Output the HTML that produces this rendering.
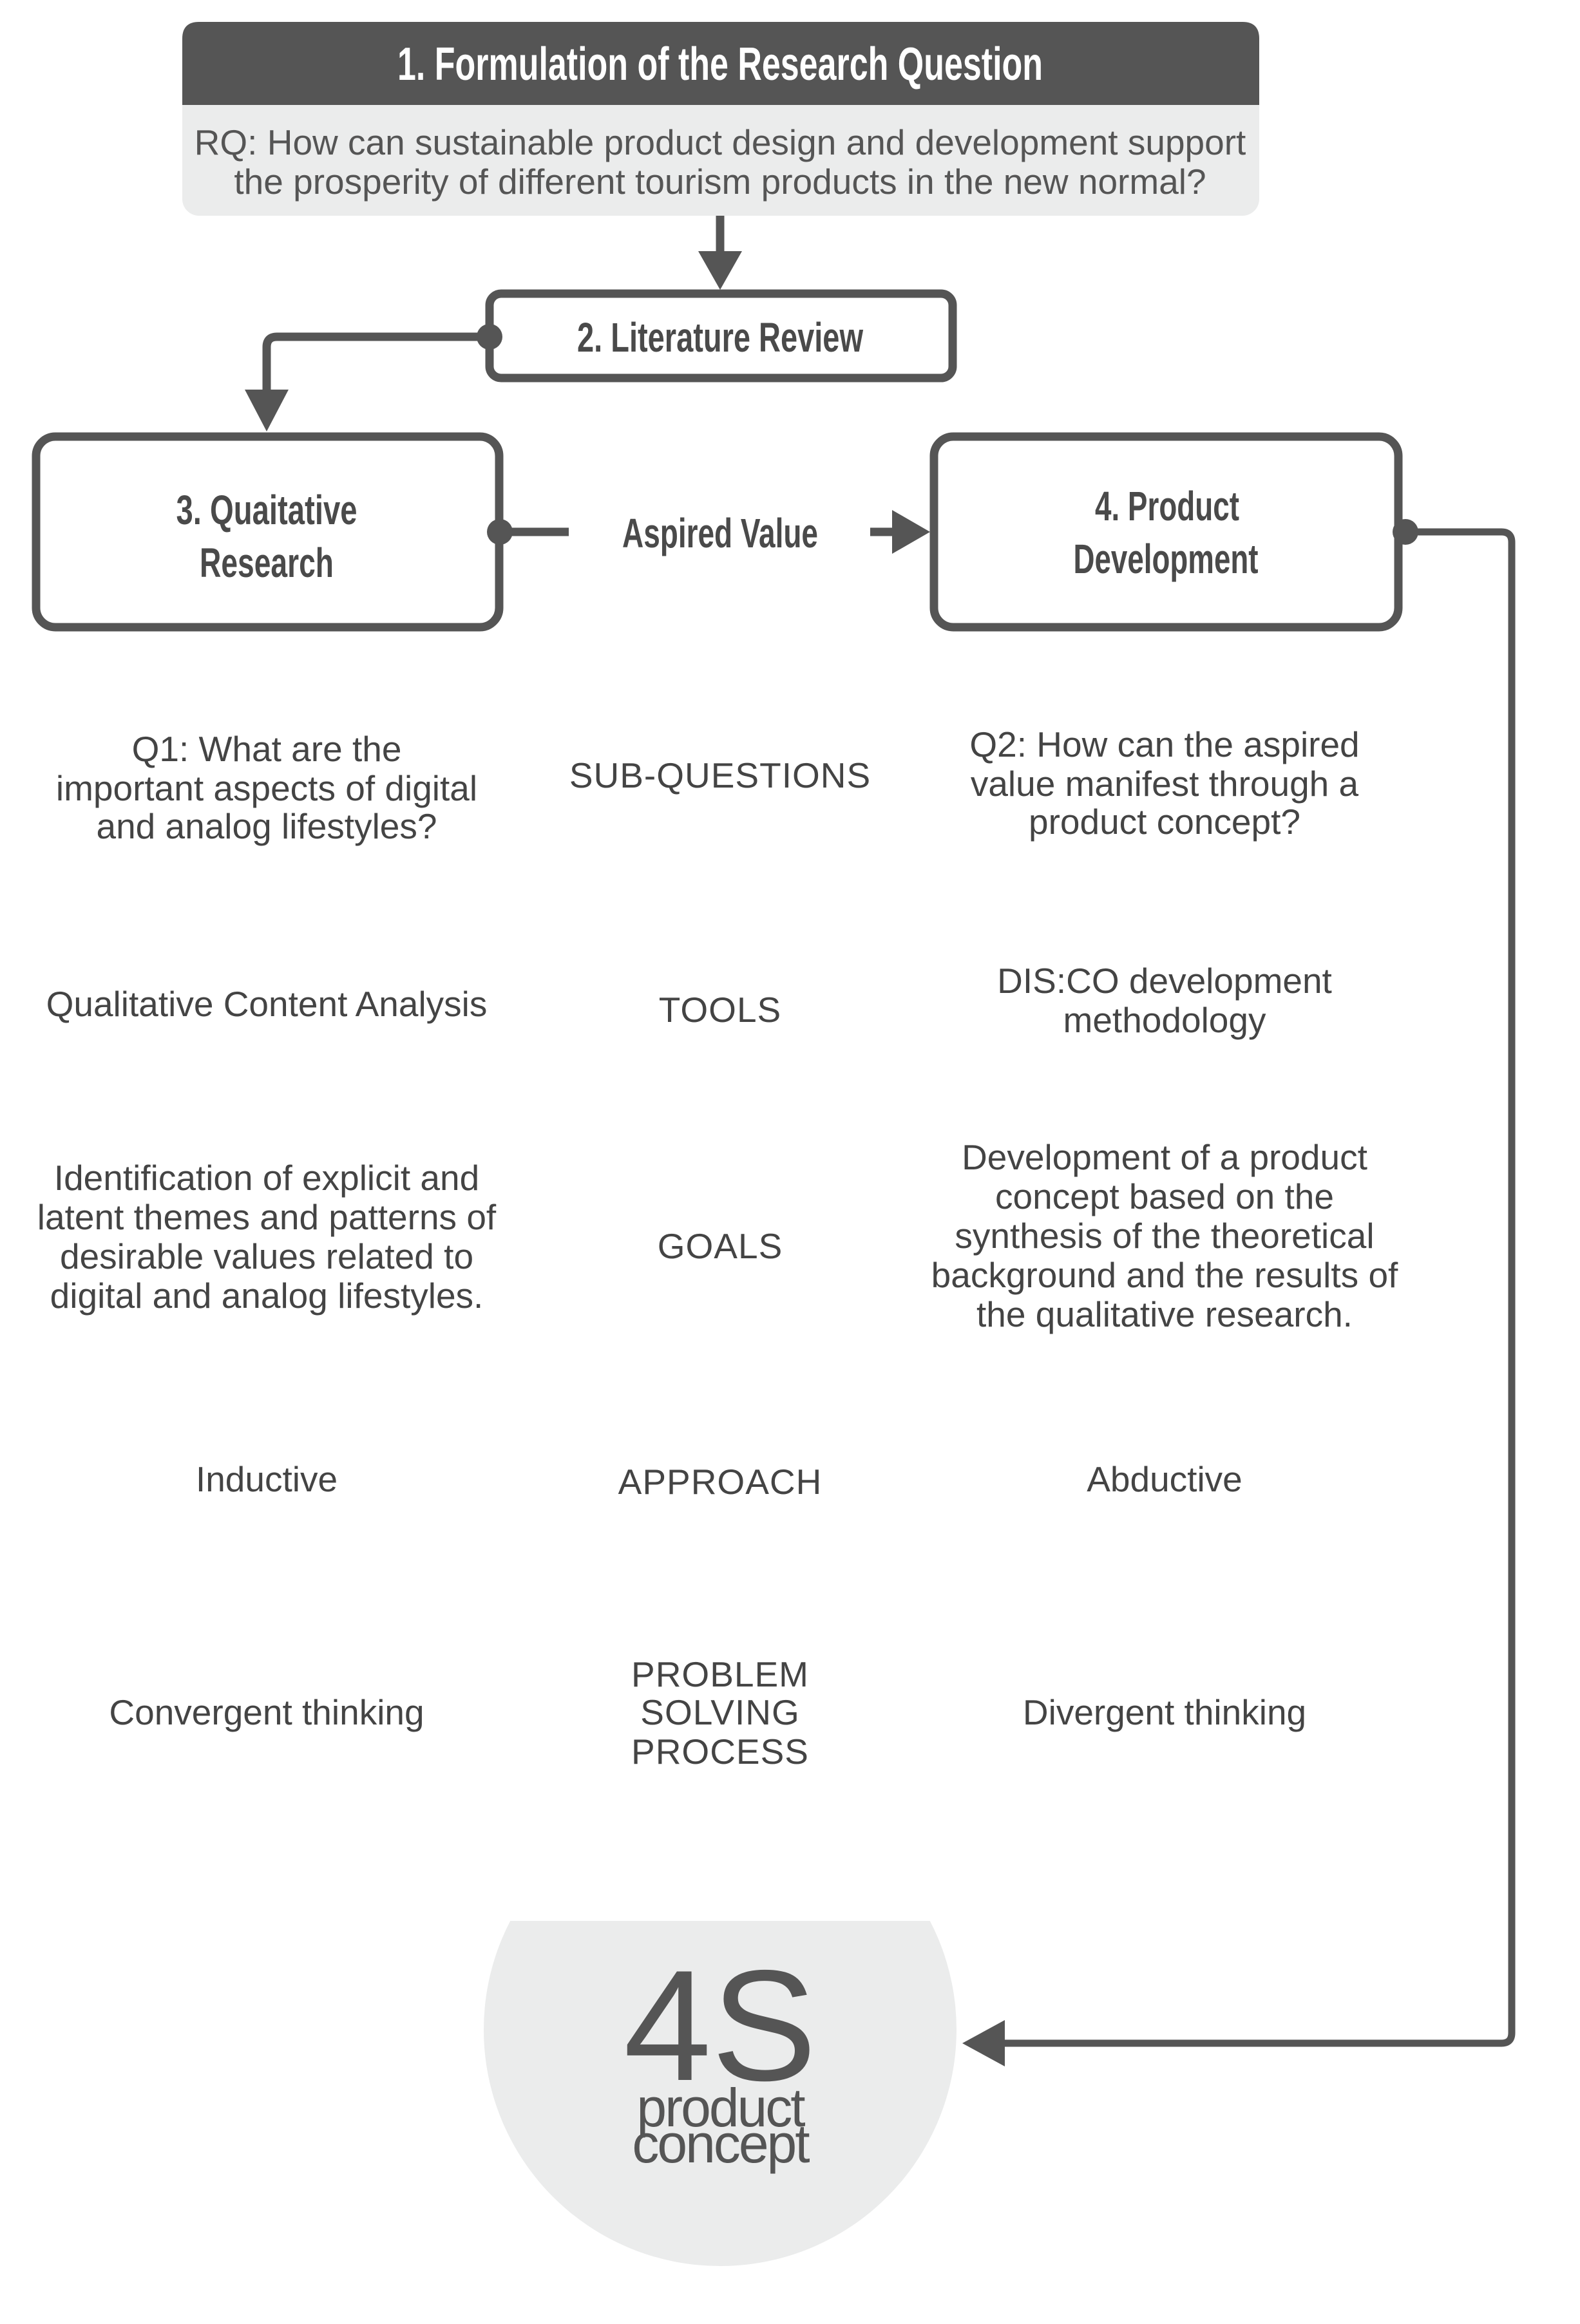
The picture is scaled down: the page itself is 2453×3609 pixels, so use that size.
<!DOCTYPE html>
<html><head><meta charset="utf-8"><style>
html,body{margin:0;padding:0;background:#fff;}
svg{display:block}
.h{font-family:"Liberation Sans",Arial,sans-serif;font-weight:bold;fill:#4a4a4a;text-anchor:middle}
.t{font-family:"Liberation Sans",Arial,sans-serif;fill:#444;font-size:55px;text-anchor:middle}
.m{letter-spacing:1px}
</style></head><body>
<svg width="2453" height="3609" viewBox="0 0 2453 3609" xmlns="http://www.w3.org/2000/svg">
<defs><clipPath id="cc"><rect x="0" y="2983" width="2453" height="700"/></clipPath></defs>
<!-- Box 1 -->
<rect x="283" y="34" width="1672" height="301" rx="26" fill="#ebecec"/>
<path d="M309 34 H1929 Q1955 34 1955 60 V163 H283 V60 Q283 34 309 34 Z" fill="#555"/>
<text x="1118" y="124" class="h" font-size="72" textLength="1002" lengthAdjust="spacingAndGlyphs" style="fill:#fff">1. Formulation of the Research Question</text>
<text x="1118" y="240" class="t" style="fill:#555">RQ: How can sustainable product design and development support</text>
<text x="1118" y="301" class="t" style="fill:#555">the prosperity of different tourism products in the new normal?</text>
<!-- arrow 1->2 -->
<line x1="1118" y1="335" x2="1118" y2="400" stroke="#555" stroke-width="13"/>
<polygon points="1084,390 1152,390 1118,450" fill="#555"/>
<!-- Box 2 -->
<rect x="760" y="456" width="719" height="131" rx="18" fill="#fff" stroke="#555" stroke-width="13"/>
<text x="1118" y="546" class="h" font-size="64" textLength="444" lengthAdjust="spacingAndGlyphs">2. Literature Review</text>
<!-- connector 2->3 -->
<path d="M758 523 H430 Q414 523 414 539 V620" fill="none" stroke="#555" stroke-width="13"/>
<circle cx="760" cy="523" r="20" fill="#555"/>
<polygon points="380,605 448,605 414,670" fill="#555"/>
<!-- Box 3 -->
<rect x="56" y="678" width="719" height="296" rx="30" fill="#fff" stroke="#555" stroke-width="13"/>
<text x="414" y="814" class="h" font-size="64" textLength="281" lengthAdjust="spacingAndGlyphs">3. Quaitative</text>
<text x="414" y="896" class="h" font-size="64" textLength="208" lengthAdjust="spacingAndGlyphs">Research</text>
<!-- Box 4 -->
<rect x="1450" y="678" width="721" height="296" rx="30" fill="#fff" stroke="#555" stroke-width="13"/>
<text x="1812" y="808" class="h" font-size="64" textLength="224" lengthAdjust="spacingAndGlyphs">4. Product</text>
<text x="1810" y="890" class="h" font-size="64" textLength="287" lengthAdjust="spacingAndGlyphs">Development</text>
<!-- aspired value -->
<line x1="776" y1="826" x2="883" y2="826" stroke="#555" stroke-width="13"/>
<circle cx="776" cy="826" r="20" fill="#555"/>
<text x="1118" y="850" class="h" font-size="64" textLength="304" lengthAdjust="spacingAndGlyphs">Aspired Value</text>
<line x1="1351" y1="826" x2="1400" y2="826" stroke="#555" stroke-width="13"/>
<polygon points="1385,792 1444,826 1385,860" fill="#555"/>
<!-- 4 -> concept -->
<path d="M2182 826 H2331 Q2347 826 2347 842 V3157 Q2347 3173 2331 3173 H1540" fill="none" stroke="#555" stroke-width="11"/>
<circle cx="2182" cy="826" r="20" fill="#555"/>
<polygon points="1494,3173 1560,3137 1560,3209" fill="#555"/>
<!-- circle -->
<circle cx="1118" cy="3152" r="367" fill="#ebecec" clip-path="url(#cc)"/>
<text x="1118" y="3230" font-family="Liberation Sans,Arial,sans-serif" font-size="245" fill="#555" text-anchor="middle">4S</text>
<text x="1118" y="3302" font-family="Liberation Sans,Arial,sans-serif" font-size="84" fill="#555" text-anchor="middle" letter-spacing="-3">product</text>
<text x="1118" y="3358" font-family="Liberation Sans,Arial,sans-serif" font-size="84" fill="#555" text-anchor="middle" letter-spacing="-3">concept</text>
<!-- sub-questions -->
<text class="t" x="414" y="1182">Q1: What are the</text>
<text class="t" x="414" y="1243">important  aspects of digital</text>
<text class="t" x="414" y="1302">and analog lifestyles?</text>
<text class="t m" x="1118" y="1223">SUB-QUESTIONS</text>
<text class="t" x="1808" y="1175">Q2: How can the aspired</text>
<text class="t" x="1808" y="1236">value manifest through a</text>
<text class="t" x="1808" y="1295">product concept?</text>
<!-- tools -->
<text class="t" x="414" y="1578">Qualitative Content Analysis</text>
<text class="t m" x="1118" y="1587">TOOLS</text>
<text class="t" x="1808" y="1542">DIS:CO development</text>
<text class="t" x="1808" y="1603">methodology</text>
<!-- goals -->
<text class="t" x="414" y="1848">Identification of explicit and</text>
<text class="t" x="414" y="1909">latent themes and patterns of</text>
<text class="t" x="414" y="1970">desirable values related to</text>
<text class="t" x="414" y="2031">digital and analog lifestyles.</text>
<text class="t m" x="1118" y="1954">GOALS</text>
<text class="t" x="1808" y="1816">Development of a product</text>
<text class="t" x="1808" y="1877">concept based on the</text>
<text class="t" x="1808" y="1938">synthesis of the theoretical</text>
<text class="t" x="1808" y="1999">background and the results of</text>
<text class="t" x="1808" y="2060">the qualitative research.</text>
<!-- approach -->
<text class="t" x="414" y="2316">Inductive</text>
<text class="t m" x="1118" y="2320">APPROACH</text>
<text class="t" x="1808" y="2316">Abductive</text>
<!-- problem solving -->
<text class="t" x="414" y="2678">Convergent thinking</text>
<text class="t m" x="1118" y="2619">PROBLEM</text>
<text class="t m" x="1118" y="2678">SOLVING</text>
<text class="t m" x="1118" y="2739">PROCESS</text>
<text class="t" x="1808" y="2678">Divergent thinking</text>
</svg>
</body></html>
